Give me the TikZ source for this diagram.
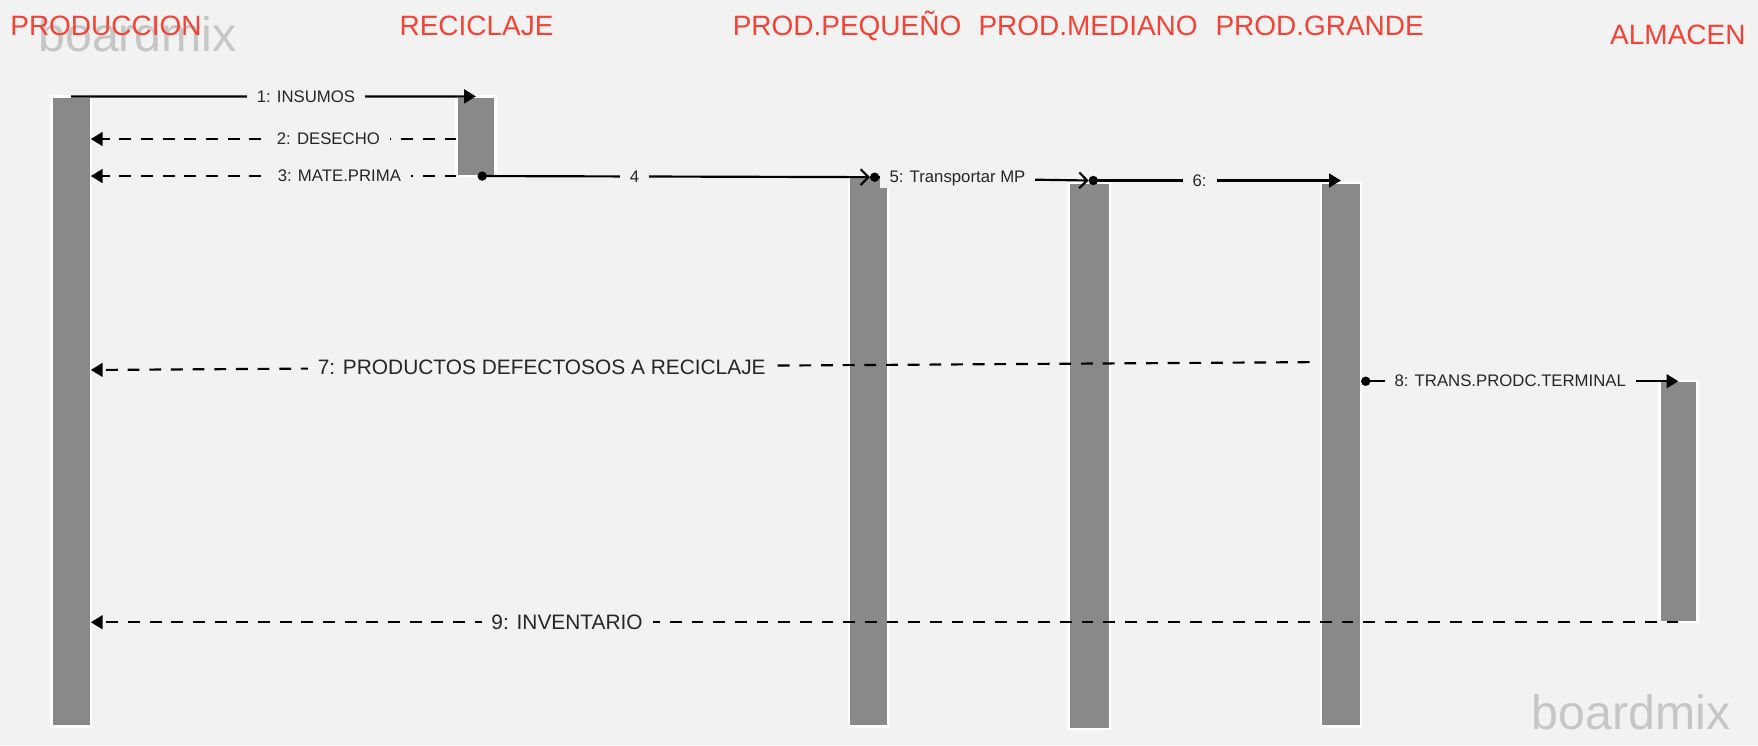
\documentclass[tikz,border=0pt]{standalone}
\usepackage{fontspec}
\setmainfont{Liberation Sans}
\usetikzlibrary{arrows.meta}
\definecolor{bgcol}{HTML}{F2F2F2}
\definecolor{titlecol}{HTML}{F44336}
\definecolor{barcol}{HTML}{898989}
\definecolor{markcol}{HTML}{C6C6C6}

\begin{document}
\begin{tikzpicture}[x=0.02cm,y=-0.02cm,
    title/.style={anchor=base,text=titlecol,font=\fontsize{14.2}{16}\selectfont},
    wmark/.style={anchor=base west,text=markcol,font=\fontsize{24.5}{28}\selectfont},
    bar/.style={rectangle,fill=barcol,draw=white,line width=1.2pt,minimum width=0.7cm,inner sep=0pt,outer sep=0pt},
    msg/.style={line width=1.1pt,-{Triangle[length=6pt,width=7pt]}},
    reply/.style={msg,dash pattern=on 6pt off 5pt},
    lbl/.style={fill=bgcol,inner xsep=5pt,inner ysep=1pt,text=black!85,font=\fontsize{8.5}{10}\selectfont},
    biglbl/.style={lbl,font=\fontsize{10.6}{12}\selectfont}]
    \fill[bgcol] (0,0) rectangle (1568,664.5);
    \useasboundingbox (0,0) rectangle (1568,664.5);
    \node[wmark] (wm1) at (28,46) {boardmix};
    \node[wmark] (wm2) at (1360,651) {boardmix};
    \node[title] (tprod) at (94.5,32) {PRODUCCION};
    \node[title] (trecic) at (425,32) {RECICLAJE};
    \node[title] (tpeq) at (755.5,32) {PROD.PEQUEÑO};
    \node[title] (tmed) at (970.5,32) {PROD.MEDIANO};
    \node[title] (tgra) at (1177,32) {PROD.GRANDE};
    \node[title] (talm) at (1496.5,40) {ALMACEN};
    \node[bar,minimum height=11.24cm] (prod) at (63.5,367) {};
    \node[bar,minimum height=1.42cm] (recic) at (424.5,121.5) {};
    \node[bar,minimum height=9.8cm] (peq) at (774.5,403) {};
    \node[bar,minimum height=9.74cm,minimum width=0.74cm] (med) at (971.5,406.5) {};
    \node[bar,minimum height=9.7cm,minimum width=0.72cm] (gra) at (1196,405.5) {};
    \node[bar,minimum height=4.3cm,minimum width=0.68cm] (alm) at (1497,447.5) {};
    \coordinate (r2) at (0,124);
    \coordinate (d4) at (426,157);
    \coordinate (d5) at (776,158);
    \coordinate (d6) at (971,161);
    \coordinate (s7) at (1168,323);
    \coordinate (e7) at (0,330);
    \draw[msg] (prod.north) -- node[lbl,pos=0.58]{1: INSUMOS} (recic.north);
    \draw[reply] (recic.west |- r2) -- node[lbl,pos=0.35]{2: DESECHO} (prod.east |- r2);
    \draw[reply] (recic.south west) -- node[lbl,pos=0.32]{3: MATE.PRIMA} (prod.east |- recic.south);
    \draw[msg,{Circle[length=4.7pt]}-{Straight Barb[length=4pt,width=8pt]}] (d4) -- node[lbl,pos=0.4]{4} (d5);
    \draw[msg,{Circle[length=4.7pt]}-{Straight Barb[length=4pt,width=8pt]}] (d5) -- node[lbl,pos=0.4]{5: Transportar MP} (d6);
    \draw[msg,{Circle[length=4.7pt]}-{Triangle[length=6pt,width=7pt]}] (d6) -- node[lbl,pos=0.44]{6:} (gra.north |- d6);
    \draw[reply] (s7) -- node[biglbl,pos=0.63]{7: PRODUCTOS DEFECTOSOS A RECICLAJE} (prod.east |- e7);
    \draw[msg,{Circle[length=4.7pt]}-{Triangle[length=6pt,width=7pt]}] (gra.east |- alm.north) -- node[lbl,pos=0.47]{8: TRANS.PRODC.TERMINAL} (alm.north);
    \draw[reply] (alm.south) -- node[biglbl,pos=0.7]{9: INVENTARIO} (prod.east |- alm.south);
\end{tikzpicture}
\end{document}
